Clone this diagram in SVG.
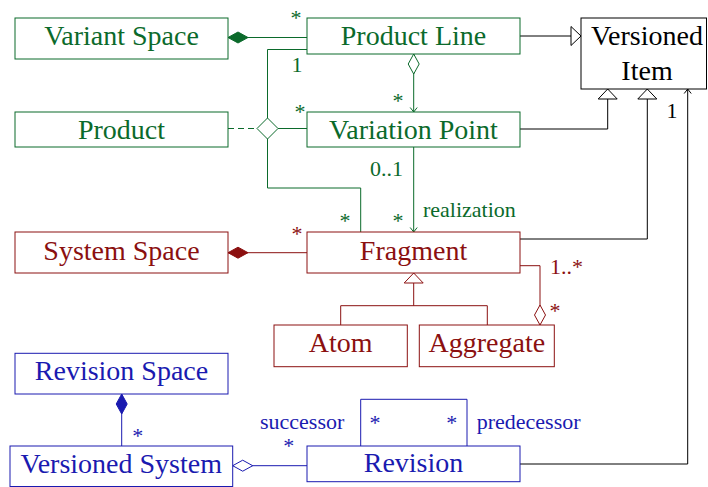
<svg xmlns="http://www.w3.org/2000/svg" width="708" height="487" viewBox="0 0 708 487">
<style>
  .g { stroke: #0b6a2b; }
  .r { stroke: #8b1010; }
  .b { stroke: #1a1ab0; }
  .k { stroke: #000; }
  rect, path, polygon { stroke-width: 1; }
  rect { fill: #fff; }
  .ln { fill: none; }
  text { font-family: "Liberation Serif", Tinos, "Times New Roman", Times, "DejaVu Serif", serif; }
  .big { font-size: 28px; text-anchor: middle; }
  .sm { font-size: 22px; }
  .gt { fill: #0b6a2b; }
  .rt { fill: #8b1010; }
  .bt { fill: #1a1ab0; }
  .kt { fill: #000; }
</style>
<defs>
  <marker id="dg" markerUnits="userSpaceOnUse" orient="auto" overflow="visible" markerWidth="1" markerHeight="1" refX="0" refY="0"><path d="M0,0 L10,-5.5 L20,0 L10,5.5 Z" fill="#0b6a2b" stroke="#0b6a2b"/></marker>
  <marker id="dr" markerUnits="userSpaceOnUse" orient="auto" overflow="visible" markerWidth="1" markerHeight="1" refX="0" refY="0"><path d="M0,0 L10,-5.5 L20,0 L10,5.5 Z" fill="#8b1010" stroke="#8b1010"/></marker>
  <marker id="db" markerUnits="userSpaceOnUse" orient="auto" overflow="visible" markerWidth="1" markerHeight="1" refX="0" refY="0"><path d="M0,0 L10,-5.5 L20,0 L10,5.5 Z" fill="#1a1ab0" stroke="#1a1ab0"/></marker>
  <marker id="hg" markerUnits="userSpaceOnUse" orient="auto" overflow="visible" markerWidth="1" markerHeight="1" refX="0" refY="0"><path d="M0,0 L10,-5.5 L20,0 L10,5.5 Z" fill="#fff" stroke="#0b6a2b"/></marker>
  <marker id="hb" markerUnits="userSpaceOnUse" orient="auto" overflow="visible" markerWidth="1" markerHeight="1" refX="0" refY="0"><path d="M0,0 L10,-5.5 L20,0 L10,5.5 Z" fill="#fff" stroke="#1a1ab0"/></marker>
  <marker id="hre" markerUnits="userSpaceOnUse" orient="auto" overflow="visible" markerWidth="1" markerHeight="1" refX="0" refY="0"><path d="M0,0 L-10,-5.5 L-20,0 L-10,5.5 Z" fill="#fff" stroke="#8b1010"/></marker>
  <marker id="tk" markerUnits="userSpaceOnUse" orient="auto" overflow="visible" markerWidth="1" markerHeight="1" refX="0" refY="0"><path d="M0,0 L-10,-9.5 L-10,9.5 Z" fill="#fff" stroke="#000"/></marker>
  <marker id="tr" markerUnits="userSpaceOnUse" orient="auto" overflow="visible" markerWidth="1" markerHeight="1" refX="0" refY="0"><path d="M0,0 L-10,-9.5 L-10,9.5 Z" fill="#fff" stroke="#8b1010"/></marker>
  <marker id="ag" markerUnits="userSpaceOnUse" orient="auto" overflow="visible" markerWidth="1" markerHeight="1" refX="0" refY="0"><path d="M-4.5,-3.5 L0,0 L-4.5,3.5" fill="none" stroke="#0b6a2b"/></marker>
  <marker id="ak" markerUnits="userSpaceOnUse" orient="auto" overflow="visible" markerWidth="1" markerHeight="1" refX="0" refY="0"><path d="M-4.5,-3.5 L0,0 L-4.5,3.5" fill="none" stroke="#000"/></marker>
</defs>

<g id="connectors">
  <path class="ln g" d="M228,37.5 H307" marker-start="url(#dg)"/>
  <path class="ln g" d="M307,49.5 H267.5 V118"/>
  <polygon id="nary" class="g" points="267.5,118 278,128.5 267.5,139 257,128.5" fill="#fff"/>
  <path class="ln g" d="M267.5,139 V188 H360.7 V232"/>
  <path class="ln g" d="M228,128.5 H257" stroke-dasharray="6,4"/>
  <path class="ln g" d="M278,128.5 H307"/>
  <path class="ln g" d="M413.7,54 V112" marker-start="url(#hg)" marker-end="url(#ag)"/>
  <path class="ln k" d="M520,36 H581" marker-end="url(#tk)"/>
  <path class="ln k" d="M520,129 H607.7 V89" marker-end="url(#tk)"/>
  <path class="ln k" d="M520,239 H647.3 V89" marker-end="url(#tk)"/>
  <path class="ln k" d="M520,464 H687.7 V89" marker-end="url(#ak)"/>
  <path class="ln g" d="M413.7,147 V232" marker-end="url(#ag)"/>
  <path class="ln r" d="M228,252.7 H307" marker-start="url(#dr)"/>
  <path class="ln r" d="M520,265.7 H540 V325" marker-end="url(#hre)"/>
  <path class="ln r" d="M413.7,305.7 V273" marker-end="url(#tr)"/>
  <path class="ln r" d="M340.7,325 V305.7 H487.3 V325"/>
  <path class="ln b" d="M121.7,394 V446" marker-start="url(#db)"/>
  <path class="ln b" d="M232.7,465.7 H307" marker-start="url(#hb)"/>
  <path class="ln b" d="M360.7,446 V399.3 H467 V446"/>

  <text class="sm gt" x="296" y="25" text-anchor="middle">*</text>
  <text class="sm gt" x="297" y="72" text-anchor="middle">1</text>
  <text class="sm gt" x="300" y="119" text-anchor="middle">*</text>
  <text class="sm gt" x="398" y="108" text-anchor="middle">*</text>
  <text class="sm gt" x="403" y="176" text-anchor="end">0..1</text>
  <text class="sm gt" x="423" y="217">realization</text>
  <text class="sm gt" x="345" y="228" text-anchor="middle">*</text>
  <text class="sm gt" x="398" y="228" text-anchor="middle">*</text>
  <text class="sm kt" x="672" y="118" text-anchor="middle">1</text>
  <text class="sm rt" x="297" y="241" text-anchor="middle">*</text>
  <text class="sm rt" x="550" y="274">1..*</text>
  <text class="sm rt" x="555" y="318" text-anchor="middle">*</text>
  <text class="sm bt" x="137.7" y="443" text-anchor="middle">*</text>
  <text class="sm bt" x="260" y="429">successor</text>
  <text class="sm bt" x="288.7" y="453" text-anchor="middle">*</text>
  <text class="sm bt" x="375" y="430" text-anchor="middle">*</text>
  <text class="sm bt" x="451.7" y="430" text-anchor="middle">*</text>
  <text class="sm bt" x="476.7" y="429">predecessor</text>
</g>

<g id="variant-space"><rect class="g" x="15" y="18" width="213" height="41"/><text class="big gt" x="121.5" y="45">Variant Space</text></g>
<g id="product-line"><rect class="g" x="307" y="18" width="213" height="36"/><text class="big gt" x="413.5" y="45">Product Line</text></g>
<g id="versioned-item"><rect class="k" x="581" y="18" width="125.5" height="71"/><text class="big kt" x="647" y="45">Versioned</text><text class="big kt" x="647" y="80">Item</text></g>
<g id="product"><rect class="g" x="15" y="112" width="213" height="35"/><text class="big gt" x="121.5" y="138.5">Product</text></g>
<g id="variation-point"><rect class="g" x="307" y="112" width="213" height="35"/><text class="big gt" x="413.5" y="138.5">Variation Point</text></g>
<g id="system-space"><rect class="r" x="15" y="232" width="213" height="41"/><text class="big rt" x="121.5" y="259.5">System Space</text></g>
<g id="fragment"><rect class="r" x="307" y="232" width="213" height="41"/><text class="big rt" x="413.5" y="259.5">Fragment</text></g>
<g id="atom"><rect class="r" x="274" y="325" width="133.3" height="41.7"/><text class="big rt" x="340.7" y="352">Atom</text></g>
<g id="aggregate"><rect class="r" x="419.3" y="325" width="135" height="41.7"/><text class="big rt" x="486.8" y="352">Aggregate</text></g>
<g id="revision-space"><rect class="b" x="15" y="353.3" width="213" height="40.7"/><text class="big bt" x="121.5" y="380">Revision Space</text></g>
<g id="versioned-system"><rect class="b" x="10" y="446" width="222.7" height="40.5"/><text class="big bt" x="121.3" y="473">Versioned System</text></g>
<g id="revision"><rect class="b" x="307" y="446" width="213" height="35.7"/><text class="big bt" x="413.5" y="472">Revision</text></g>
</svg>
